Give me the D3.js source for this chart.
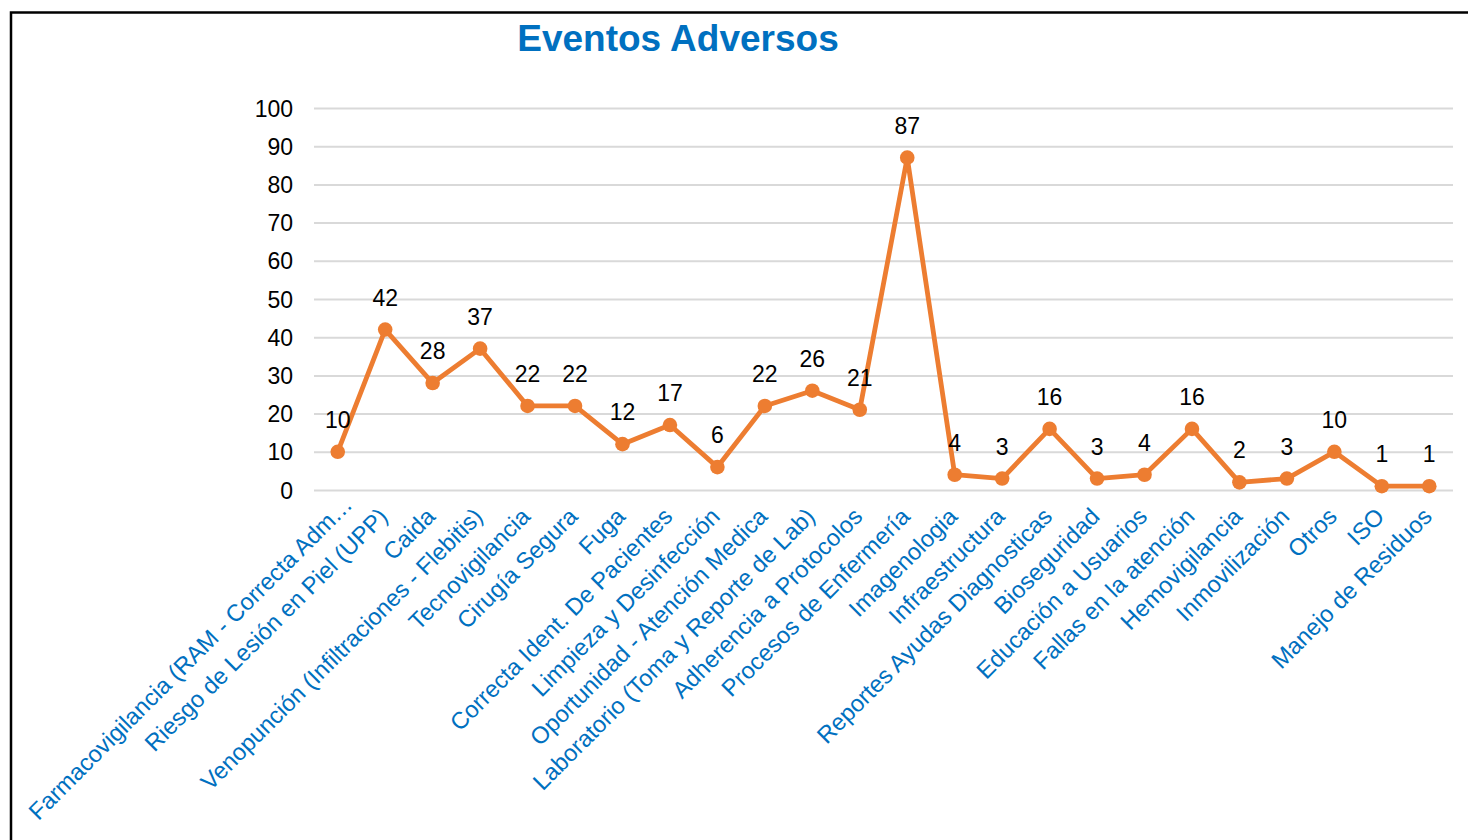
<!DOCTYPE html>
<html>
<head>
<meta charset="utf-8">
<script src="https://cdnjs.cloudflare.com/ajax/libs/d3/7.8.5/d3.min.js"></script>
<style>
  html, body { margin: 0; padding: 0; background: #fff; }
  svg { display: block; font-family: "Liberation Sans", Arial, sans-serif; }
</style>
</head>
<body>
<svg id="chart" width="1468" height="840"></svg>
<script>
const title = "Eventos Adversos";
const categories = [
  "Farmacovigilancia (RAM - Correcta Adm…",
  "Riesgo de Lesión en Piel (UPP)",
  "Caida",
  "Venopunción (Infiltraciones - Flebitis)",
  "Tecnovigilancia",
  "Cirugía Segura",
  "Fuga",
  "Correcta Ident. De Pacientes",
  "Limpieza y Desinfección",
  "Oportunidad - Atención Medica",
  "Laboratorio (Toma y Reporte de Lab)",
  "Adherencia a Protocolos",
  "Procesos de Enfermería",
  "Imagenologia",
  "Infraestructura",
  "Reportes Ayudas Diagnosticas",
  "Bioseguridad",
  "Educación a Usuarios",
  "Fallas en la atención",
  "Hemovigilancia",
  "Inmovilización",
  "Otros",
  "ISO",
  "Manejo de Residuos"
];
const values = [10, 42, 28, 37, 22, 22, 12, 17, 6, 22, 26, 21, 87, 4, 3, 16, 3, 4, 16, 2, 3, 10, 1, 1];
const yTicks = [0, 10, 20, 30, 40, 50, 60, 70, 80, 90, 100];

const svg = d3.select("#chart");

// outer border
svg.append("rect")
  .attr("x", 11).attr("y", 12.5)
  .attr("width", 1520).attr("height", 900)
  .attr("fill", "none").attr("stroke", "#000").attr("stroke-width", 2.5);

const x = d3.scaleBand()
  .domain(categories)
  .range([314, 1453]);
const y = d3.scaleLinear()
  .domain([0, 100])
  .range([490, 108]);

// gridlines
const yAxis = d3.axisLeft(y).tickValues(yTicks).tickSize(-(1453 - 314)).tickPadding(21);
const gy = svg.append("g").attr("transform", "translate(314,0)").call(yAxis);
gy.select(".domain").remove();
gy.selectAll(".tick line").attr("stroke", "#d9d9d9").attr("stroke-width", 2);
gy.selectAll(".tick text")
  .attr("fill", "#000")
  .style("font-size", "23px")
  .attr("dy", "0.35em");

// x labels
const xAxis = d3.axisBottom(x).tickSize(0).tickPadding(0);
const gx = svg.append("g").attr("transform", "translate(0,490)").call(xAxis);
gx.select(".domain").remove();
gx.selectAll(".tick text")
  .attr("fill", "#0070C0")
  .style("font-size", "23.6px")
  .attr("text-anchor", "end")
  .attr("y", 0).attr("dy", 0)
  .attr("dx", (d, i) => i === 0 ? 17 : 0)
  .attr("transform", "translate(4,28) rotate(-45)");

const cx = d => x(d) + x.bandwidth() / 2;

// line
const line = d3.line()
  .x((d, i) => cx(categories[i]))
  .y(d => y(d));
svg.append("path")
  .datum(values)
  .attr("d", line)
  .attr("fill", "none")
  .attr("stroke", "#ED7D31")
  .attr("stroke-width", 4.8)
  .attr("stroke-linejoin", "round");

svg.selectAll("circle.pt")
  .data(values)
  .join("circle")
  .attr("class", "pt")
  .attr("cx", (d, i) => cx(categories[i]))
  .attr("cy", d => y(d))
  .attr("r", 7.3)
  .attr("fill", "#ED7D31");

svg.selectAll("text.lbl")
  .data(values)
  .join("text")
  .attr("class", "lbl")
  .attr("x", (d, i) => cx(categories[i]))
  .attr("y", d => y(d) - 32)
  .attr("dy", "0.35em")
  .attr("text-anchor", "middle")
  .style("font-size", "23px")
  .attr("fill", "#000")
  .text(d => d);

// title
svg.append("text")
  .attr("x", 678).attr("y", 38)
  .attr("dy", "0.35em")
  .attr("text-anchor", "middle")
  .style("font-size", "37px")
  .style("font-weight", "bold")
  .attr("fill", "#0070C0")
  .text(title);
</script>
</body>
</html>
